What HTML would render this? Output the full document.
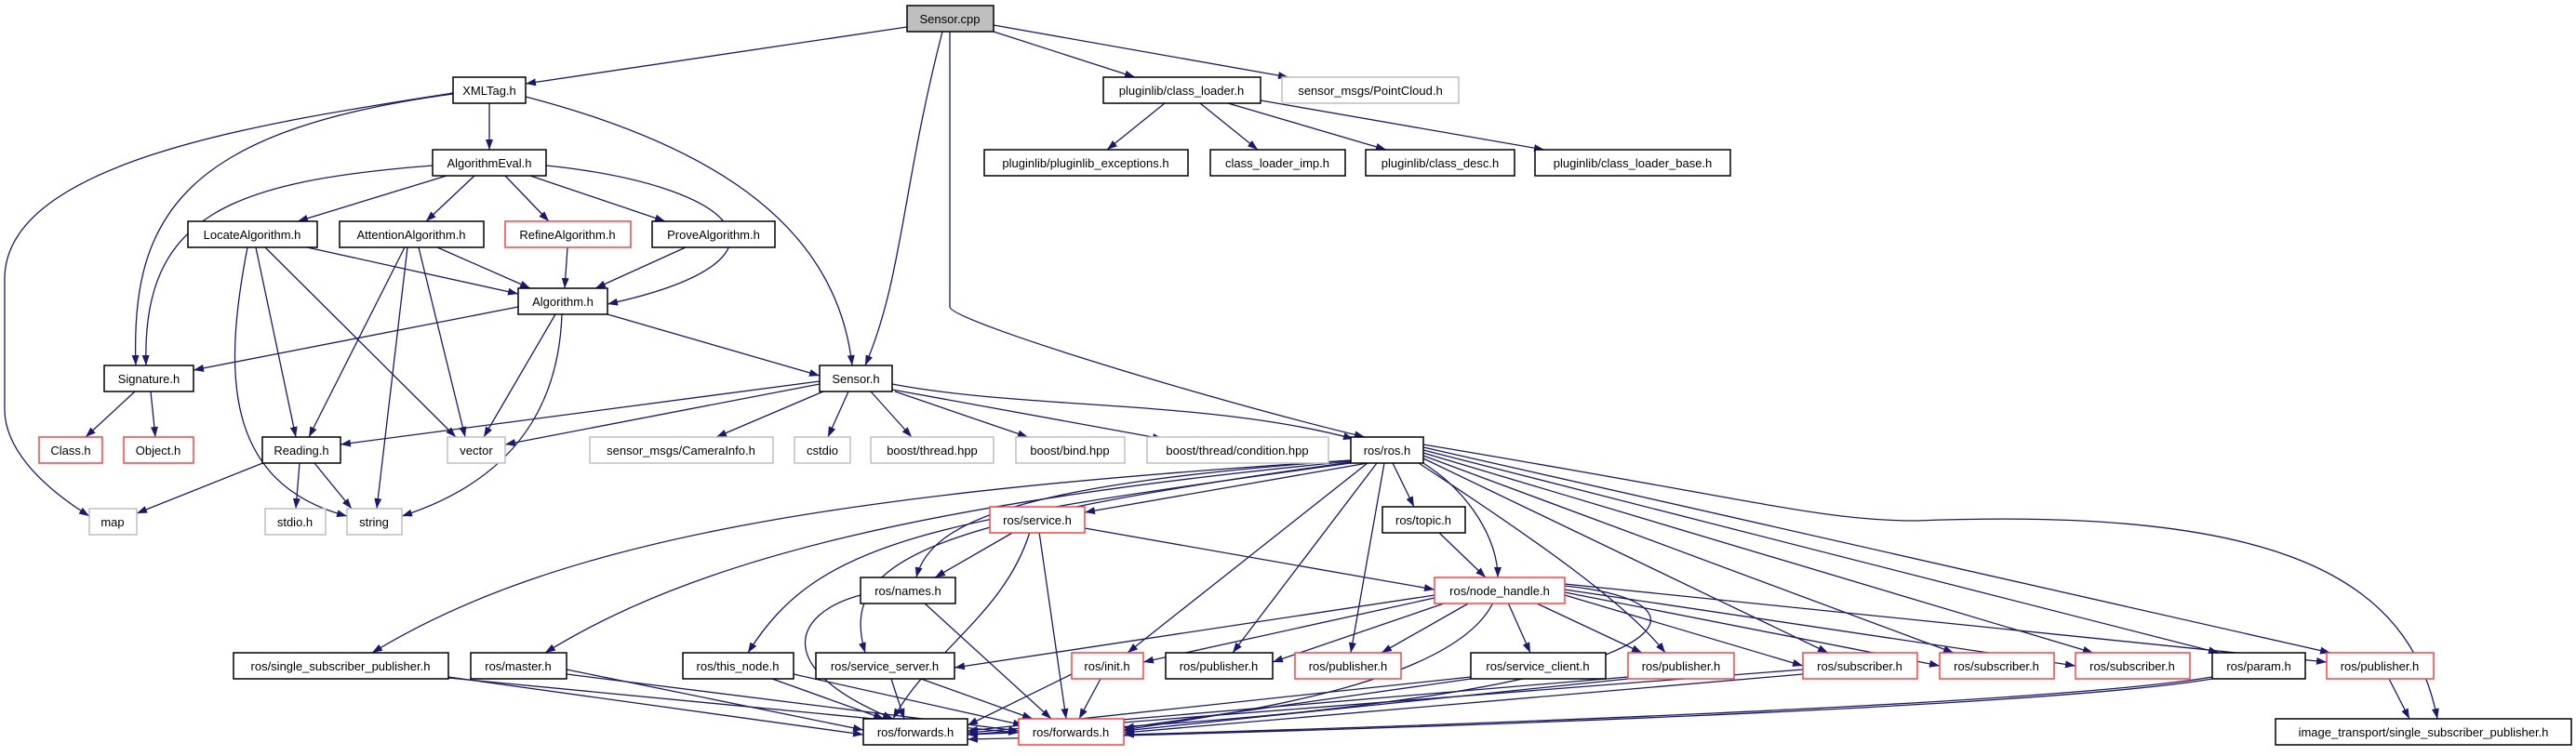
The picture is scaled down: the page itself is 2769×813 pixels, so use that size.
<!DOCTYPE html>
<html><head><meta charset="utf-8"><style>
html,body{margin:0;padding:0;background:#fff}
svg{display:block}
text{font-family:"Liberation Sans",sans-serif;font-size:13px;fill:#000;text-anchor:middle}
.e{fill:none;stroke:#191970;stroke-width:1.3}
.b{fill:#fff;stroke:#000;stroke-width:1.5}
.g{fill:#fff;stroke:#bfbfbf;stroke-width:1.5}
.r{fill:#fff;stroke:#ff4040;stroke-width:1.5}
</style></head><body>
<svg width="2769" height="813" viewBox="0 0 2769 813" xmlns="http://www.w3.org/2000/svg">
<defs><marker id="a" markerUnits="userSpaceOnUse" markerWidth="11" markerHeight="8" refX="11" refY="4" orient="auto"><path d="M0,0 L11,4 L0,8 z" fill="#191970"/></marker></defs>
<g class="e" marker-end="url(#a)">
<path d="M975,29 L565,90"/><path d="M1068,34 L1220,83"/><path d="M1068,27 L1385,83"/>
<path d="M1252,111 L1190,161"/><path d="M1290,111 L1352,161"/><path d="M1320,111 L1490,161"/><path d="M1355,108 L1660,161"/>
<path d="M1013,34 C970,200 970,300 930,393"/><path d="M1021,34 L1021,330 C1021,345 1300,430 1467,470"/>
<path d="M526,111 L526,161"/><path d="M487,101 C200,140 140,230 146,393"/>
<path d="M487,100 C300,130 5,170 5,300 L5,440 C5,480 40,520 96,555"/>
<path d="M565,104 C780,160 900,250 916,393"/>
<path d="M480,189 L320,238"/><path d="M510,189 L458,238"/><path d="M543,189 L590,238"/><path d="M570,189 L715,238"/>
<path d="M465,178 C250,195 152,230 157,393"/><path d="M587,178 C800,200 870,280 653,327"/>
<path d="M330,266 L557,316"/><path d="M275,266 L318,470"/><path d="M285,266 L490,470"/><path d="M266,266 C240,400 240,520 373,555"/>
<path d="M470,266 L570,310"/><path d="M435,266 L332,470"/><path d="M450,266 L500,470"/><path d="M438,266 L405,547"/>
<path d="M610,266 L607,310"/><path d="M737,266 L640,310"/>
<path d="M557,330 L208,398"/><path d="M653,338 L881,404"/><path d="M597,338 L520,470"/><path d="M604,338 C600,450 540,520 432,555"/>
<path d="M145,421 L92,470"/><path d="M162,421 L167,470"/>
<path d="M881,410 L366,478"/><path d="M881,413 L543,478"/><path d="M885,421 L770,470"/><path d="M912,421 L890,470"/>
<path d="M936,421 L980,470"/><path d="M962,421 L1105,470"/><path d="M959,419 L1250,472"/><path d="M959,413 C1100,440 1300,430 1455,472"/>
<path d="M285,497 L147,552"/><path d="M322,498 L318,547"/><path d="M338,498 L378,547"/>
<path d="M1470,498 L1166,551"/><path d="M1452,495 C1100,520 1000,560 985,621"/><path d="M1497,498 L1520,545"/>
<path d="M1530,498 C1580,530 1610,580 1610,621"/>
<path d="M1452,495 C900,530 600,580 400,702"/><path d="M1452,496 C1000,540 750,600 586,702"/>
<path d="M1452,498 C1000,560 880,580 804,702"/><path d="M1452,497 C1000,560 900,600 930,702"/>
<path d="M1470,498 L1212,702"/><path d="M1480,498 L1325,702"/><path d="M1488,498 L1452,702"/>
<path d="M1525,498 C1650,580 1750,650 1790,702"/>
<path d="M1530,493 L1965,702"/><path d="M1530,490 L2100,702"/><path d="M1530,487 L2250,702"/>
<path d="M1530,484 L2385,702"/><path d="M1530,481 L2505,702"/>
<path d="M1530,478 C1900,540 1960,560 2060,560 C2450,545 2590,620 2620,773"/>
<path d="M1090,572 L1005,621"/><path d="M1166,568 L1542,634"/><path d="M1117,572 L1146,773"/>
<path d="M1107,572 C1080,660 1000,700 960,773"/>
<path d="M1546,572 L1597,621"/>
<path d="M925,640 C850,660 830,720 960,773"/><path d="M993,648 L1130,773"/>
<path d="M1542,640 L1026,718"/><path d="M1542,643 L1229,712"/><path d="M1555,648 L1368,712"/>
<path d="M1580,648 L1485,702"/><path d="M1621,648 L1645,702"/><path d="M1650,648 L1765,702"/>
<path d="M1682,640 L1938,716"/><path d="M1682,637 L2085,716"/><path d="M1682,634 L2231,716"/><path d="M1682,628 L2501,712"/>
<path d="M1605,648 C1560,740 1300,770 1208,785"/><path d="M1682,630 C1880,650 1800,760 1040,790"/>
<path d="M482,728 L928,790"/><path d="M482,729 L1095,788"/>
<path d="M609,720 L928,785"/><path d="M609,725 L1095,786"/>
<path d="M830,730 L950,773"/><path d="M853,725 L1100,780"/>
<path d="M958,730 L972,773"/><path d="M990,730 L1110,773"/>
<path d="M1152,725 L1040,780"/><path d="M1183,730 L1160,773"/>
<path d="M1581,728 L1040,786"/><path d="M1581,730 L1208,783"/>
<path d="M1750,728 L1040,788"/><path d="M1750,730 L1208,786"/>
<path d="M1938,720 L1040,790"/><path d="M1938,725 L1208,788"/>
<path d="M2378,730 C2200,760 1500,785 1040,795"/><path d="M2378,728 C2200,758 1500,782 1208,790"/>
<path d="M2568,730 L2590,773"/>
</g>
<g>
<rect x="975" y="6" width="93" height="28" fill="#bfbfbf" stroke="#000" stroke-width="1.5"/><text x="1021" y="25">Sensor.cpp</text>
<rect class="b" x="487" y="83" width="78" height="28"/><text x="526" y="102">XMLTag.h</text>
<rect class="b" x="1186" y="83" width="169" height="28"/><text x="1270" y="102">pluginlib/class_loader.h</text>
<rect class="g" x="1378" y="83" width="190" height="28"/><text x="1473" y="102">sensor_msgs/PointCloud.h</text>
<rect class="b" x="465" y="161" width="122" height="28"/><text x="526" y="180">AlgorithmEval.h</text>
<rect class="b" x="1058" y="161" width="219" height="28"/><text x="1167" y="180">pluginlib/pluginlib_exceptions.h</text>
<rect class="b" x="1301" y="161" width="145" height="28"/><text x="1373" y="180">class_loader_imp.h</text>
<rect class="b" x="1468" y="161" width="160" height="28"/><text x="1548" y="180">pluginlib/class_desc.h</text>
<rect class="b" x="1650" y="161" width="210" height="28"/><text x="1755" y="180">pluginlib/class_loader_base.h</text>
<rect class="b" x="202" y="238" width="139" height="28"/><text x="271" y="257">LocateAlgorithm.h</text>
<rect class="b" x="365" y="238" width="155" height="28"/><text x="442" y="257">AttentionAlgorithm.h</text>
<rect class="r" x="543" y="238" width="135" height="28"/><text x="610" y="257">RefineAlgorithm.h</text>
<rect class="b" x="701" y="238" width="132" height="28"/><text x="767" y="257">ProveAlgorithm.h</text>
<rect class="b" x="557" y="310" width="96" height="28"/><text x="605" y="329">Algorithm.h</text>
<rect class="b" x="112" y="393" width="96" height="28"/><text x="160" y="412">Signature.h</text>
<rect class="b" x="881" y="393" width="78" height="28"/><text x="920" y="412">Sensor.h</text>
<rect class="r" x="42" y="470" width="68" height="28"/><text x="76" y="489">Class.h</text>
<rect class="r" x="133" y="470" width="75" height="28"/><text x="170" y="489">Object.h</text>
<rect class="b" x="282" y="470" width="84" height="28"/><text x="324" y="489">Reading.h</text>
<rect class="g" x="481" y="470" width="62" height="28"/><text x="512" y="489">vector</text>
<rect class="g" x="634" y="470" width="197" height="28"/><text x="732" y="489">sensor_msgs/CameraInfo.h</text>
<rect class="g" x="854" y="470" width="60" height="28"/><text x="884" y="489">cstdio</text>
<rect class="g" x="936" y="470" width="132" height="28"/><text x="1002" y="489">boost/thread.hpp</text>
<rect class="g" x="1092" y="470" width="117" height="28"/><text x="1150" y="489">boost/bind.hpp</text>
<rect class="g" x="1233" y="470" width="195" height="28"/><text x="1330" y="489">boost/thread/condition.hpp</text>
<rect class="b" x="1452" y="470" width="78" height="28"/><text x="1491" y="489">ros/ros.h</text>
<rect class="g" x="96" y="547" width="51" height="28"/><text x="121" y="566">map</text>
<rect class="g" x="285" y="547" width="65" height="28"/><text x="317" y="566">stdio.h</text>
<rect class="g" x="373" y="547" width="59" height="28"/><text x="402" y="566">string</text>
<rect class="r" x="1064" y="545" width="102" height="28"/><text x="1115" y="564">ros/service.h</text>
<rect class="b" x="1486" y="545" width="89" height="28"/><text x="1530" y="564">ros/topic.h</text>
<rect class="b" x="925" y="621" width="102" height="28"/><text x="976" y="640">ros/names.h</text>
<rect class="r" x="1542" y="621" width="140" height="28"/><text x="1612" y="640">ros/node_handle.h</text>
<rect class="b" x="251" y="702" width="231" height="28"/><text x="366" y="721">ros/single_subscriber_publisher.h</text>
<rect class="b" x="506" y="702" width="103" height="28"/><text x="557" y="721">ros/master.h</text>
<rect class="b" x="734" y="702" width="119" height="28"/><text x="793" y="721">ros/this_node.h</text>
<rect class="b" x="877" y="702" width="149" height="28"/><text x="951" y="721">ros/service_server.h</text>
<rect class="r" x="1152" y="702" width="77" height="28"/><text x="1190" y="721">ros/init.h</text>
<rect class="b" x="1253" y="702" width="115" height="28"/><text x="1310" y="721">ros/publisher.h</text>
<rect class="r" x="1392" y="702" width="114" height="28"/><text x="1449" y="721">ros/publisher.h</text>
<rect class="b" x="1581" y="702" width="145" height="28"/><text x="1653" y="721">ros/service_client.h</text>
<rect class="r" x="1750" y="702" width="114" height="28"/><text x="1807" y="721">ros/publisher.h</text>
<rect class="r" x="1938" y="702" width="123" height="28"/><text x="1999" y="721">ros/subscriber.h</text>
<rect class="r" x="2085" y="702" width="123" height="28"/><text x="2146" y="721">ros/subscriber.h</text>
<rect class="r" x="2231" y="702" width="123" height="28"/><text x="2292" y="721">ros/subscriber.h</text>
<rect class="b" x="2378" y="702" width="100" height="28"/><text x="2428" y="721">ros/param.h</text>
<rect class="r" x="2501" y="702" width="115" height="28"/><text x="2558" y="721">ros/publisher.h</text>
<rect class="b" x="928" y="773" width="112" height="28"/><text x="984" y="792">ros/forwards.h</text>
<rect class="r" x="1095" y="773" width="113" height="28"/><text x="1151" y="792">ros/forwards.h</text>
<rect class="b" x="2446" y="773" width="318" height="28"/><text x="2605" y="792">image_transport/single_subscriber_publisher.h</text>
</g>
</svg>
</body></html>
